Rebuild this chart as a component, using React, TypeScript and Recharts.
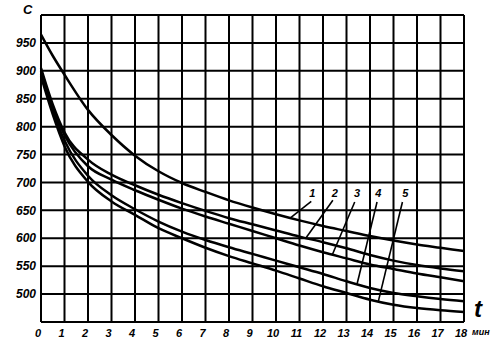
import React from "react";
import {
  LineChart,
  Line,
  XAxis,
  YAxis,
  CartesianGrid,
  ReferenceLine,
  ReferenceDot,
} from "recharts";

// time, min
const times = [0, 0.5, 1, 2, 3, 4, 5, 6, 7, 8, 9, 10, 11, 12, 13, 14, 15, 16, 17, 18];

// C values
const curve1 = [965, 927, 893, 830, 785, 748, 720, 699, 683, 668, 655, 643, 632, 622, 613, 604, 596, 589, 583, 577];
const curve2 = [905, 840, 790, 741, 714, 695, 678, 663, 649, 636, 625, 614, 603, 593, 582, 570, 560, 552, 546, 541];
const curve3 = [900, 835, 785, 729, 705, 686, 669, 653, 639, 626, 613, 600, 587, 575, 564, 553, 545, 537, 530, 523];
const curve4 = [895, 828, 775, 712, 677, 652, 630, 612, 597, 584, 572, 560, 548, 536, 523, 511, 502, 496, 491, 487];
const curve5 = [890, 822, 765, 701, 666, 642, 618, 600, 583, 568, 555, 542, 528, 514, 502, 490, 481, 475, 471, 468];

const xTicks = [0, 1, 2, 3, 4, 5, 6, 7, 8, 9, 10, 11, 12, 13, 14, 15, 16, 17, 18];
const yTicks = [450, 500, 550, 600, 650, 700, 750, 800, 850, 900, 950, 1000];

// curve number labels and leader lines (label point -> point on curve)
const curveLabels = ["1", "2", "3", "4", "5"];
const labelT = [11.55, 12.5, 13.45, 14.35, 15.5];
const labelC = [681, 681, 681, 681, 681];
const leaderTopT = [11.5, 12.42, 13.35, 14.3, 15.38];
const leaderTopC = [666, 668, 665, 665, 665];
const leaderEndT = [10.6, 11.25, 12.4, 13.45, 14.35];
const leaderEndC = [636, 599, 571, 518, 486];

const data = times.map((t, i) => ({
  t,
  c1: curve1[i],
  c2: curve2[i],
  c3: curve3[i],
  c4: curve4[i],
  c5: curve5[i],
}));

const font = "'Liberation Sans', Arial, sans-serif";

function XTick({ x, y, payload }: any) {
  return (
    <g>
      <text
        x={x - 3}
        y={y}
        dy="0.71em"
        textAnchor="middle"
        fontFamily={font}
        fontStyle="italic"
        fontWeight="bold"
        fontSize={11}
        fill="#000"
      >
        {payload.value}
      </text>
      {payload.value === 18 && (
        <text
          x={x + 8}
          y={y}
          dy="0.71em"
          fontFamily={font}
          fontStyle="italic"
          fontWeight="bold"
          fontSize={9}
          fill="#000"
        >
          мин
        </text>
      )}
    </g>
  );
}

function YTick({ x, y, payload }: any) {
  if (payload.value === 450 || payload.value === 1000) return null;
  return (
    <text
      x={x}
      y={y}
      dy="0.35em"
      textAnchor="end"
      fontFamily={font}
      fontStyle="italic"
      fontWeight="bold"
      fontSize={12}
      fill="#000"
    >
      {payload.value}
    </text>
  );
}

export default function App() {
  return (
    <div style={{ position: "relative", width: 503, height: 346, background: "#fff" }}>
      <style>{"body{margin:0;background:#fff}"}</style>
      <LineChart
        width={503}
        height={346}
        data={data}
        margin={{ top: 15, right: 39, left: 0, bottom: 0 }}
      >
        <CartesianGrid stroke="#000" strokeWidth={2} />
        <XAxis
          dataKey="t"
          type="number"
          domain={[0, 18]}
          ticks={xTicks}
          height={24}
          tickSize={0}
          tickMargin={7}
          axisLine={false}
          tick={<XTick />}
          interval={0}
        />
        <YAxis
          type="number"
          domain={[450, 1000]}
          ticks={yTicks}
          width={41}
          tickSize={0}
          tickMargin={5}
          axisLine={false}
          tick={<YTick />}
          interval={0}
        />
        {["c1", "c2", "c3", "c4", "c5"].map((k) => (
          <Line
            key={k}
            type="monotone"
            dataKey={k}
            stroke="#000"
            strokeWidth={2.5}
            dot={false}
            isAnimationActive={false}
          />
        ))}
        {curveLabels.map((lbl, i) => (
          <ReferenceLine
            key={"l" + lbl}
            segment={[
              { x: leaderTopT[i], y: leaderTopC[i] },
              { x: leaderEndT[i], y: leaderEndC[i] },
            ]}
            stroke="#000"
            strokeWidth={1.6}
          />
        ))}
        {curveLabels.map((lbl, i) => (
          <ReferenceDot
            key={"d" + lbl}
            x={labelT[i]}
            y={labelC[i]}
            r={1}
            fill="none"
            stroke="none"
            label={{
              value: lbl,
              position: "center",
              fill: "#000",
              fontSize: 11,
              fontStyle: "italic",
              fontWeight: "bold",
              fontFamily: font,
            }}
          />
        ))}
      </LineChart>
      <span
        style={{
          position: "absolute",
          left: 23,
          top: 3,
          fontFamily: font,
          fontStyle: "italic",
          fontWeight: "bold",
          fontSize: 13,
          lineHeight: "13px",
        }}
      >
        C
      </span>
      <span
        style={{
          position: "absolute",
          left: 474,
          top: 297,
          fontFamily: font,
          fontStyle: "italic",
          fontWeight: "bold",
          fontSize: 24,
          lineHeight: "24px",
        }}
      >
        t
      </span>
    </div>
  );
}
